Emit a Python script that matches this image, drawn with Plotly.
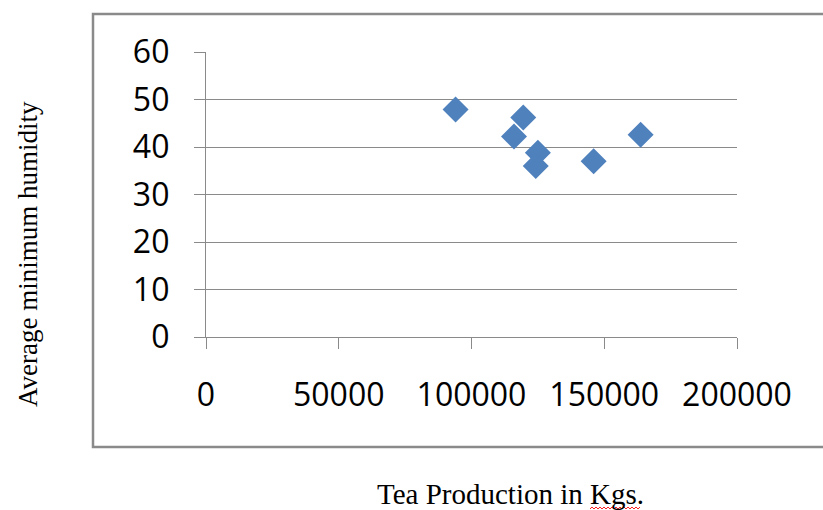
import plotly.graph_objects as go

# Data
tea_production = [94000, 119500, 116000, 125000, 124200, 146000, 163700]
min_humidity = [47.9, 46.2, 42.2, 38.8, 36.0, 37.0, 42.6]

x_ticks = [0, 50000, 100000, 150000, 200000]
y_ticks = [0, 10, 20, 30, 40, 50, 60]

W, H = 823, 510
L, R, T, B = 206, 737, 52, 337

def px(xp):
    return (xp - L) / (R - L)

def py(yp):
    return (B - yp) / (B - T)

fig = go.Figure()
fig.add_trace(go.Scatter(
    x=tea_production, y=min_humidity, mode="markers",
    marker=dict(symbol="diamond", size=20, color="#4F81BD",
                line=dict(width=0)),
    showlegend=False, cliponaxis=False,
))

grid = "#8a8a8a"
fig.update_layout(
    width=W, height=H,
    margin=dict(l=L, r=W - R, t=T, b=H - B, pad=0),
    paper_bgcolor="white", plot_bgcolor="white",
    font=dict(family="Open Sans", color="#000000"),
    xaxis=dict(range=[0, 200000], tickvals=x_ticks, ticktext=[str(v) for v in x_ticks],
               showgrid=False, zeroline=False, showline=True, linecolor=grid, linewidth=1.3,
               ticks="outside", ticklen=11, tickcolor=grid, tickwidth=1.3,
               tickfont=dict(size=32, family="Open Sans", color="#000"),
               ticklabelstandoff=18),
    yaxis=dict(range=[0, 60], tickvals=y_ticks,
               showgrid=True, gridcolor=grid, gridwidth=1.3, zeroline=False,
               showline=True, linecolor=grid, linewidth=1.3,
               ticks="outside", ticklen=11, tickcolor=grid, tickwidth=1.3,
               tickfont=dict(size=32, family="Open Sans", color="#000"),
               ticklabelstandoff=18),
)

# outer chart frame
fig.add_shape(type="rect", xref="paper", yref="paper",
              x0=px(93), x1=px(835), y0=py(447), y1=py(14),
              line=dict(color="#8a8a8a", width=2.5), layer="below")

# axis titles
fig.add_annotation(text="Average minimum humidity", xref="paper", yref="paper",
                   x=px(28), y=py(254), textangle=-90, showarrow=False,
                   font=dict(family="Liberation Serif", size=27, color="#000"),
                   xanchor="center", yanchor="middle")
fig.add_annotation(text="Tea Production in Kgs.", xref="paper", yref="paper",
                   x=px(510), y=py(494), showarrow=False,
                   font=dict(family="Liberation Serif", size=29, color="#000"),
                   xanchor="center", yanchor="middle")

# spell-check squiggle under "Kgs"
zig = "M0,0" + "".join(f" L{2*i+2},{(1 if i % 2 == 0 else 0)*2}" for i in range(25))
fig.add_shape(type="path", xref="paper", yref="paper",
              xsizemode="pixel", ysizemode="pixel",
              xanchor=px(590), yanchor=py(509), path=zig,
              line=dict(color="#ff2020", width=1))

fig.write_html("out.html")
